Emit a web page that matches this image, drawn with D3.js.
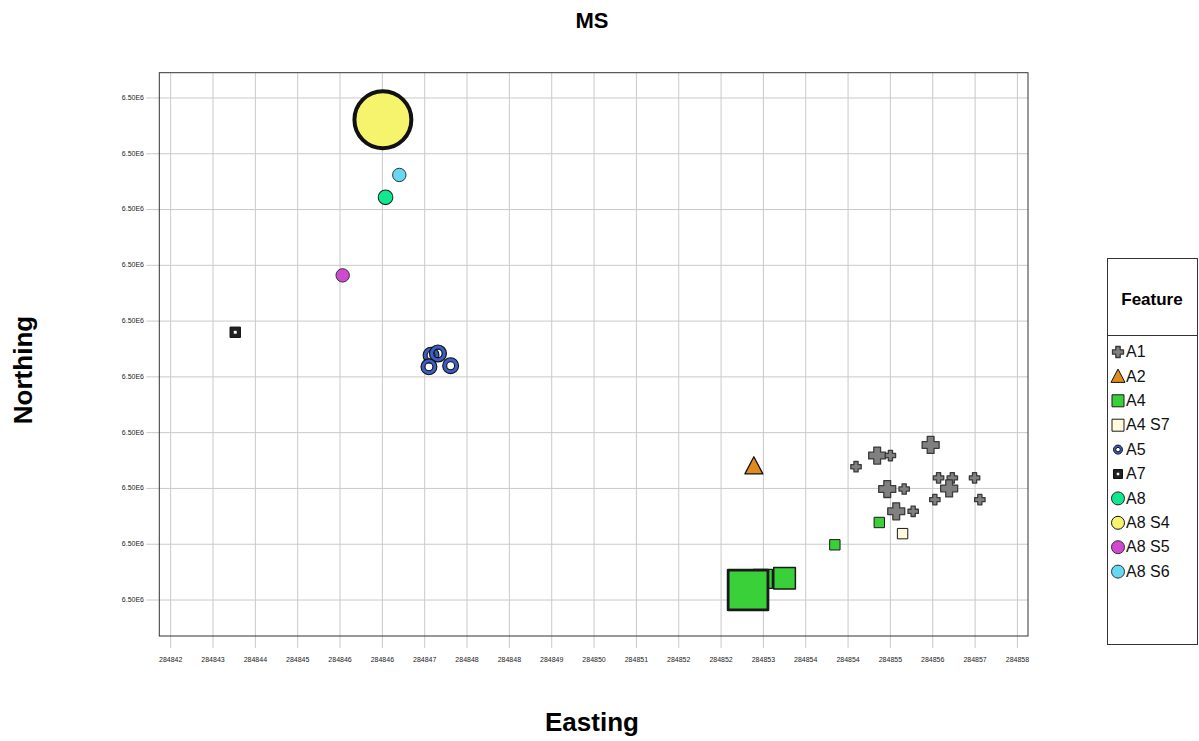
<!DOCTYPE html>
<html>
<head>
<meta charset="utf-8">
<script src="https://cdn.jsdelivr.net/npm/d3@7"></script>
<style>
  html, body { margin: 0; padding: 0; background: #fff; }
  svg { display: block; font-family: Arial, "Liberation Sans", sans-serif; }
</style>
</head>
<body>
<svg id="chart" width="1199" height="741"></svg>
<script>
// Feature categories, in legend order
const features = ["A1", "A2", "A4", "A4 S7", "A5", "A7", "A8", "A8 S4", "A8 S5", "A8 S6"];

// Sample locations (easting / northing), the feature each belongs to, and a count that drives marker size.
// Drawn in this order, so later markers sit on top.
const pointFeature = [
  "A8 S4", "A8 S6", "A8", "A8 S5", "A7",
  "A5", "A5", "A5", "A5",
  "A2",
  "A4", "A4", "A4", "A4", "A4",
  "A4 S7",
  "A1", "A1", "A1", "A1", "A1", "A1", "A1", "A1", "A1", "A1", "A1", "A1", "A1", "A1"
];
const easting = [
  284846.01, 284846.32, 284846.06, 284845.25, 284843.22,
  284846.92, 284847.05, 284846.88, 284847.29,
  284853.02,
  284853.19, 284852.91, 284853.60, 284854.55, 284855.39,
  284855.83,
  284856.36, 284855.35, 284855.60, 284854.95, 284856.51, 284856.77, 284857.19,
  284855.54, 284855.86, 284856.71, 284856.44, 284857.29, 284855.71, 284856.03
];
const northing = [
  6500008.61, 6500007.62, 6500007.22, 6500005.82, 6500004.80,
  6500004.39, 6500004.42, 6500004.18, 6500004.20,
  6500002.40,
  6500000.38, 6500000.18, 6500000.39, 6500000.99, 6500001.39,
  6500001.19,
  6500002.78, 6500002.59, 6500002.59, 6500002.39, 6500002.19, 6500002.19, 6500002.19,
  6500001.99, 6500001.99, 6500002.00, 6500001.80, 6500001.80, 6500001.59, 6500001.59
];
const count = [
  90, 5, 6, 5, 3,
  7, 8, 7, 7,
  9,
  10, 44, 13, 3, 3,
  3,
  8, 8, 3, 3, 3, 3, 3,
  8, 3, 8, 3, 3, 8, 3
];

// Axis ticks and their printed labels
const xTickValues = d3.range(21).map(i => 284842 + i * 0.8);
const xTickLabels = ["284842", "284843", "284844", "284845", "284846", "284846", "284847",
  "284848", "284848", "284849", "284850", "284851", "284852", "284852", "284853",
  "284854", "284854", "284855", "284856", "284857", "284858"];
const yTickValues = d3.range(10).map(i => 6500000 + i);
const yTickLabels = yTickValues.map(() => "6.50E6");

// Styling per feature
const style = {
  "A1":    { shape: "cross",    fill: "#808080", stroke: "#3a3a3a" },
  "A2":    { shape: "triangle", fill: "#e08b1e", stroke: "#111" },
  "A4":    { shape: "square",   fill: "#3ad03a", stroke: "#1a1a1a" },
  "A4 S7": { shape: "square",   fill: "#fffbdc", stroke: "#1a1a1a" },
  "A5":    { shape: "ring",     fill: "#3c5fc6", stroke: "#111" },
  "A7":    { shape: "dotsquare",fill: "#222",    stroke: "#111" },
  "A8":    { shape: "circle",   fill: "#10e890", stroke: "#222" },
  "A8 S4": { shape: "circle",   fill: "#f6f46c", stroke: "#111" },
  "A8 S5": { shape: "circle",   fill: "#d04ad0", stroke: "#333" },
  "A8 S6": { shape: "circle",   fill: "#66d8f2", stroke: "#333" }
};

const svg = d3.select("#chart");
const plot = { left: 159.3, right: 1028, top: 72.7, bottom: 636 };

const x = d3.scaleLinear().domain([284841.785, 284858.2]).range([plot.left, plot.right]);
const y = d3.scaleLinear().domain([6499999.355, 6500009.453]).range([plot.bottom, plot.top]);
const size = d3.scaleSqrt().domain([0, 100]).range([0, 60]);

// Marker outline of width w centred on the origin
function shapePath(shape, w) {
  const p = d3.path();
  const h = w / 2;
  if (shape === "circle") {
    p.arc(0, 0, h, 0, 2 * Math.PI);
  } else if (shape === "square" || shape === "dotsquare") {
    p.rect(-h, -h, w, w);
  } else if (shape === "triangle") {
    const th = w * 0.95;
    p.moveTo(0, -th * 0.55); p.lineTo(h, th * 0.45); p.lineTo(-h, th * 0.45); p.closePath();
  } else if (shape === "ring") {
    p.arc(0, 0, h, 0, 2 * Math.PI);
    p.moveTo(h * 0.5, 0);
    p.arc(0, 0, h * 0.5, 0, 2 * Math.PI);
  } else if (shape === "cross") {
    const a = w * 0.2;
    p.moveTo(-a, -h); p.lineTo(a, -h); p.lineTo(a, -a); p.lineTo(h, -a); p.lineTo(h, a);
    p.lineTo(a, a); p.lineTo(a, h); p.lineTo(-a, h); p.lineTo(-a, a); p.lineTo(-h, a);
    p.lineTo(-h, -a); p.lineTo(-a, -a); p.closePath();
  }
  return p.toString();
}

function drawMarker(g, feat, w) {
  const s = style[feat];
  const sw = Math.max(1, w * 0.07);
  g.append("path")
    .attr("d", shapePath(s.shape, w))
    .attr("fill", s.fill)
    .attr("fill-rule", "evenodd")
    .attr("stroke", s.stroke)
    .attr("stroke-width", s.shape === "cross" ? 1.3 : sw)
    .attr("stroke-linejoin", "round");
  if (s.shape === "dotsquare") {
    g.append("rect").attr("x", -w * 0.14).attr("y", -w * 0.14)
      .attr("width", w * 0.28).attr("height", w * 0.28).attr("fill", "#fff");
  }
}

// Gridlines (extended past the frame as tick marks)
svg.append("g").selectAll("line").data(xTickValues).join("line")
  .attr("x1", d => x(d)).attr("x2", d => x(d))
  .attr("y1", plot.top).attr("y2", plot.bottom + 12)
  .attr("stroke", "#c9c9c9").attr("stroke-width", 1);
svg.append("g").selectAll("line").data(yTickValues).join("line")
  .attr("x1", plot.left - 13).attr("x2", plot.right)
  .attr("y1", d => y(d)).attr("y2", d => y(d))
  .attr("stroke", "#c9c9c9").attr("stroke-width", 1);

// Plot frame
svg.append("rect")
  .attr("x", plot.left).attr("y", plot.top)
  .attr("width", plot.right - plot.left).attr("height", plot.bottom - plot.top)
  .attr("fill", "none").attr("stroke", "#333").attr("stroke-width", 1);

// Tick labels
svg.append("g").selectAll("text").data(xTickValues).join("text")
  .attr("x", d => x(d)).attr("y", 660)
  .attr("text-anchor", "middle").attr("dominant-baseline", "middle")
  .attr("font-size", 7).attr("fill", "#222")
  .text((d, i) => xTickLabels[i]);
svg.append("g").selectAll("text").data(yTickValues).join("text")
  .attr("x", 144).attr("y", d => y(d))
  .attr("text-anchor", "end").attr("dominant-baseline", "middle")
  .attr("font-size", 7).attr("fill", "#222")
  .text((d, i) => yTickLabels[i]);

// Points
const points = easting.map((e, i) => ({ e, n: northing[i], f: pointFeature[i], c: count[i] }));
const pg = svg.append("g");
points.forEach(d => {
  const g = pg.append("g").attr("transform", `translate(${x(d.e)},${y(d.n)})`);
  drawMarker(g, d.f, size(d.c));
});

// Titles
svg.append("text").attr("x", 592).attr("y", 22)
  .attr("text-anchor", "middle").attr("dominant-baseline", "middle")
  .attr("font-size", 22).attr("font-weight", "bold").text("MS");
svg.append("text").attr("x", 592).attr("y", 724)
  .attr("text-anchor", "middle").attr("dominant-baseline", "middle")
  .attr("font-size", 26).attr("font-weight", "bold").text("Easting");
svg.append("text").attr("transform", "translate(25,370) rotate(-90)")
  .attr("text-anchor", "middle").attr("dominant-baseline", "middle")
  .attr("font-size", 26).attr("font-weight", "bold").text("Northing");

// Legend
const lg = svg.append("g");
lg.append("rect").attr("x", 1107.5).attr("y", 258.5).attr("width", 90).attr("height", 386)
  .attr("fill", "#fff").attr("stroke", "#333");
lg.append("line").attr("x1", 1107.5).attr("x2", 1197.5).attr("y1", 335.5).attr("y2", 335.5)
  .attr("stroke", "#333");
lg.append("text").attr("x", 1152).attr("y", 301)
  .attr("text-anchor", "middle").attr("dominant-baseline", "middle")
  .attr("font-size", 17).attr("font-weight", "bold").text("Feature");
const legendSize = { cross: 11, triangle: 14, square: 12, ring: 9, dotsquare: 9, circle: 13 };
features.forEach((f, i) => {
  const cy = 352 + i * 24.4;
  const g = lg.append("g").attr("transform", `translate(1118,${cy})`);
  drawMarker(g, f, legendSize[style[f].shape]);
  lg.append("text").attr("x", 1126).attr("y", cy + 1)
    .attr("dominant-baseline", "middle").attr("font-size", 16).attr("fill", "#111").text(f);
});
</script>
</body>
</html>
